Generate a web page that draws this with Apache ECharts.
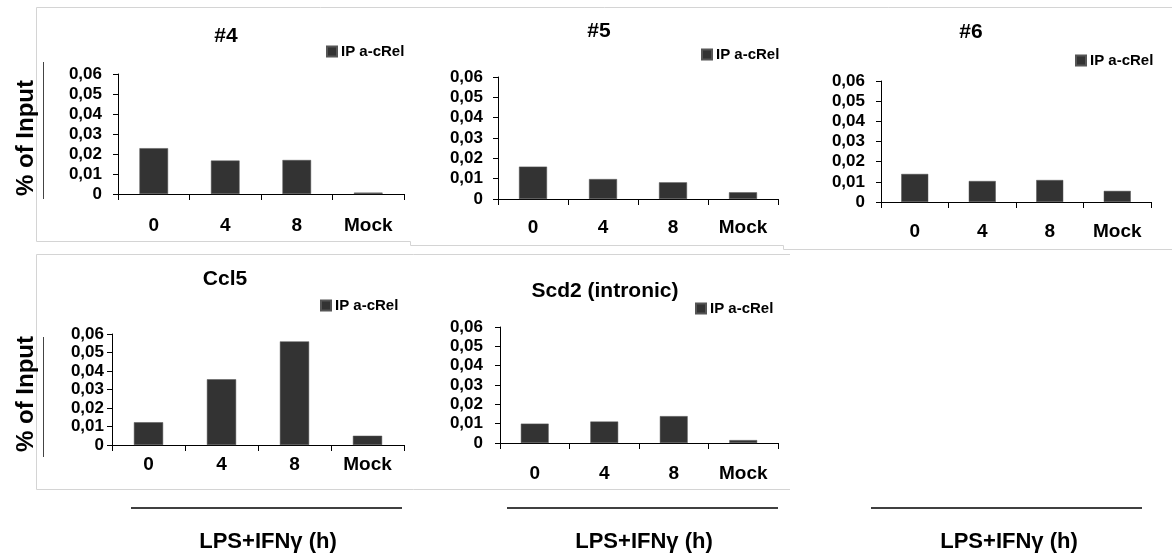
<!DOCTYPE html>
<html>
<head>
<meta charset="utf-8">
<title>IP a-cRel ChIP</title>
<script src="https://cdn.jsdelivr.net/npm/echarts@6.0.0/dist/echarts.min.js"></script>
<style>
    html, body { margin: 0; padding: 0; background: #fff; }
    .echarts-1 { width: 1172px; height: 555px; }
</style>
</head>
<body>
<div class="echarts-1"></div>
<script>
// 数据
var categories = ['0', '4', '8', 'Mock'];
var panelTitles = ['#4', '#5', '#6', 'Ccl5', 'Scd2 (intronic)'];
var values4 = [0.0229, 0.0167, 0.0170, 0.0007];
var values5 = [0.0159, 0.0098, 0.0082, 0.0033];
var values6 = [0.0139, 0.0104, 0.0109, 0.0055];
var valuesCcl5 = [0.0123, 0.0355, 0.0560, 0.0050];
var valuesScd2 = [0.0100, 0.0111, 0.0139, 0.0015];
var seriesName = 'IP a-cRel';
var yName = '% of Input';
var xName = 'LPS+IFNγ (h)';
var yMin = 0, yMax = 0.06, yStep = 0.01;

var allValues = [values4, values5, values6, valuesCcl5, valuesScd2];

// 每个小图的位置
var panels = [
    { grid: [118, 74, 286, 120], title: [226, 26], legend: [326, 44], xMargin: 22, yMargin: 16 },
    { grid: [498, 77, 280, 122], title: [599, 21], legend: [701, 47], xMargin: 19, yMargin: 15 },
    { grid: [881, 81, 270, 121], title: [971, 22], legend: [1075, 53], xMargin: 20, yMargin: 16 },
    { grid: [112, 334, 292, 111], title: [225, 269], legend: [320, 298], xMargin: 10, yMargin: 8 },
    { grid: [500, 327, 278, 116], title: [605, 281], legend: [695, 301], xMargin: 21, yMargin: 17 }
];

var font = '"Liberation Sans", Arial, sans-serif';

var grids = [], xAxes = [], yAxes = [], series = [], titles = [], legends = [];

panels.forEach(function (p, i) {
    grids.push({
        left: p.grid[0], top: p.grid[1], width: p.grid[2], height: p.grid[3],
        outerBoundsMode: 'none'
    });
    titles.push({
        text: panelTitles[i],
        left: p.title[0], top: p.title[1], textAlign: 'center', padding: 0,
        textStyle: { fontFamily: font, fontWeight: 'bold', fontSize: 21, color: '#000' }
    });
    legends.push({
        data: [seriesName],
        left: p.legend[0], top: p.legend[1], padding: 0,
        itemWidth: 10, itemHeight: 10, selectedMode: false,
        icon: 'rect',
        textStyle: { fontFamily: font, fontWeight: 'bold', fontSize: 15, color: '#000', padding: [0, 0, 0, -1] }
    });
    xAxes.push({
        gridIndex: i,
        type: 'category',
        data: categories,
        axisLine: { lineStyle: { color: '#000', width: 1 } },
        axisTick: { show: true, length: 6, lineStyle: { color: '#000' } },
        axisLabel: { margin: p.xMargin, fontFamily: font, fontWeight: 'bold', fontSize: 19, color: '#000' }
    });
    yAxes.push({
        gridIndex: i,
        type: 'value',
        min: yMin, max: yMax, interval: yStep,
        axisLine: { show: true, lineStyle: { color: '#000', width: 1 } },
        axisTick: { show: true, length: 5, lineStyle: { color: '#000' } },
        splitLine: { show: false },
        axisLabel: {
            margin: p.yMargin, fontFamily: font, fontWeight: 'bold', fontSize: 17, color: '#000',
            formatter: function (v) {
                return v === 0 ? '0' : v.toFixed(2).replace('.', ',');
            }
        }
    });
    series.push({
        name: seriesName,
        type: 'bar',
        xAxisIndex: i,
        yAxisIndex: i,
        barWidth: '40%',
        data: allValues[i],
        itemStyle: { color: '#333333', borderColor: '#555', borderWidth: 0.5 },
        silent: true
    });
});

// 浅灰色边框 (只有横线和最左边的竖线)
var frameLines = [
    [36.5, 7.5, 1172, 7.5],
    [36.5, 7.5, 36.5, 241.5],
    [36.5, 241.5, 410.5, 241.5],
    [410.5, 241.5, 410.5, 245.5],
    [410.5, 245.5, 783.5, 245.5],
    [783.5, 245.5, 783.5, 249.5],
    [783.5, 249.5, 1172, 249.5],
    [36.5, 254.5, 790, 254.5],
    [36.5, 254.5, 36.5, 489.5],
    [36.5, 489.5, 790, 489.5]
];
var graphics = frameLines.map(function (l) {
    return {
        type: 'line', z: -10, shape: { x1: l[0], y1: l[1], x2: l[2], y2: l[3] },
        style: { stroke: '#d4d4d4', lineWidth: 1 }
    };
});

// 纵轴名称
[[138, 62, 199], [394, 337, 457]].forEach(function (r) {
    graphics.push({
        type: 'text', x: 26, y: r[0], rotation: Math.PI / 2,
        style: { text: yName, x: 0, y: 0, align: 'center', verticalAlign: 'middle',
                 font: 'bold 24px ' + font, fill: '#000' }
    });
    graphics.push({
        type: 'line', shape: { x1: 43.5, y1: r[1], x2: 43.5, y2: r[2] },
        style: { stroke: '#444', lineWidth: 1 }
    });
});

// 底部标注
[[131, 402, 268], [507, 778, 644], [871, 1142, 1009]].forEach(function (b) {
    graphics.push({
        type: 'line', shape: { x1: b[0], y1: 508, x2: b[1], y2: 508 },
        style: { stroke: '#000', lineWidth: 1.6 }
    });
    graphics.push({
        type: 'text', x: b[2], y: 542,
        style: { text: xName, align: 'center', verticalAlign: 'middle',
                 font: 'bold 22px ' + font, fill: '#000' }
    });
});

var echarts_1 = echarts.init(document.querySelector('.echarts-1'));

var option1 = {
    backgroundColor: '#fff',
    animation: false,
    title: titles,
    legend: legends,
    grid: grids,
    xAxis: xAxes,
    yAxis: yAxes,
    series: series,
    graphic: graphics
};

echarts_1.setOption(option1);
</script>
</body>
</html>
